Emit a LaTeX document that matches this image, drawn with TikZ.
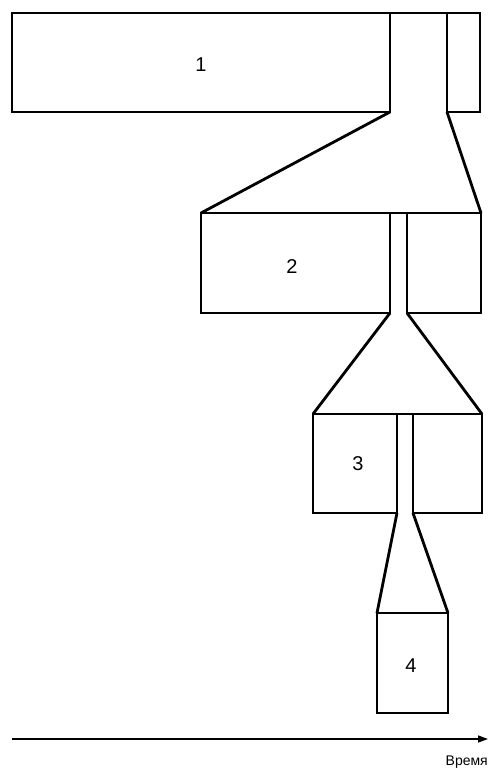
\documentclass[tikz,border=0pt]{standalone}
\usepackage{fontspec}
\setmainfont{Liberation Sans}
\usetikzlibrary{arrows.meta}
\begin{document}
\begin{tikzpicture}[x=1pt,y=-1pt,
  outline/.style={draw=black,line width=2.8pt,line join=miter},
  numlabel/.style={font=\fontsize{20}{24}\selectfont,inner sep=0pt},
  axis/.style={draw=black,line width=1.4pt,-{Triangle[length=10pt,width=7pt]}}]
\useasboundingbox (0,0) rectangle (488,770);
% stage 1
\coordinate (a1) at (12,13); \coordinate (b1) at (390,112);
\coordinate (c1) at (447,13); \coordinate (d1) at (480,112);
\draw[outline] (a1) rectangle (b1);
\draw[outline] (c1) rectangle (d1);
\draw[outline] (390,13) -- (c1);
\node[numlabel] (n1) at (201,65) {1};
% stage 2
\coordinate (a2) at (201,213); \coordinate (b2) at (390,313);
\coordinate (c2) at (407,213); \coordinate (d2) at (481,313);
\coordinate (f1l) at (390,112); \coordinate (f1r) at (447,112);
\draw[outline] (a2) rectangle (b2);
\draw[outline] (c2) rectangle (d2);
\draw[outline] (390,213) -- (c2);
\draw[outline] (f1l) -- (a2);
\draw[outline] (f1r) -- (481,213);
\node[numlabel] (n2) at (292,267) {2};
% stage 3
\coordinate (a3) at (313,414); \coordinate (b3) at (397,513);
\coordinate (c3) at (413,414); \coordinate (d3) at (482,513);
\coordinate (f2l) at (390,313); \coordinate (f2r) at (407,313);
\draw[outline] (a3) rectangle (b3);
\draw[outline] (c3) rectangle (d3);
\draw[outline] (397,414) -- (c3);
\draw[outline] (f2l) -- (a3);
\draw[outline] (f2r) -- (482,414);
\node[numlabel] (n3) at (358,464) {3};
% stage 4
\coordinate (a4) at (377,613); \coordinate (b4) at (448,713);
\coordinate (f3l) at (397,513); \coordinate (f3r) at (413,513);
\draw[outline] (a4) rectangle (b4);
\draw[outline] (f3l) -- (a4);
\draw[outline] (f3r) -- (448,613);
\node[numlabel] (n4) at (411,666) {4};
% time axis
\coordinate (t0) at (12,739); \coordinate (t1) at (488,739);
\draw[axis] (t0) -- (t1);
\node[font=\fontsize{14}{16}\selectfont,anchor=east,inner sep=0pt] (time) at (488,762) {Время};
\end{tikzpicture}
\end{document}
